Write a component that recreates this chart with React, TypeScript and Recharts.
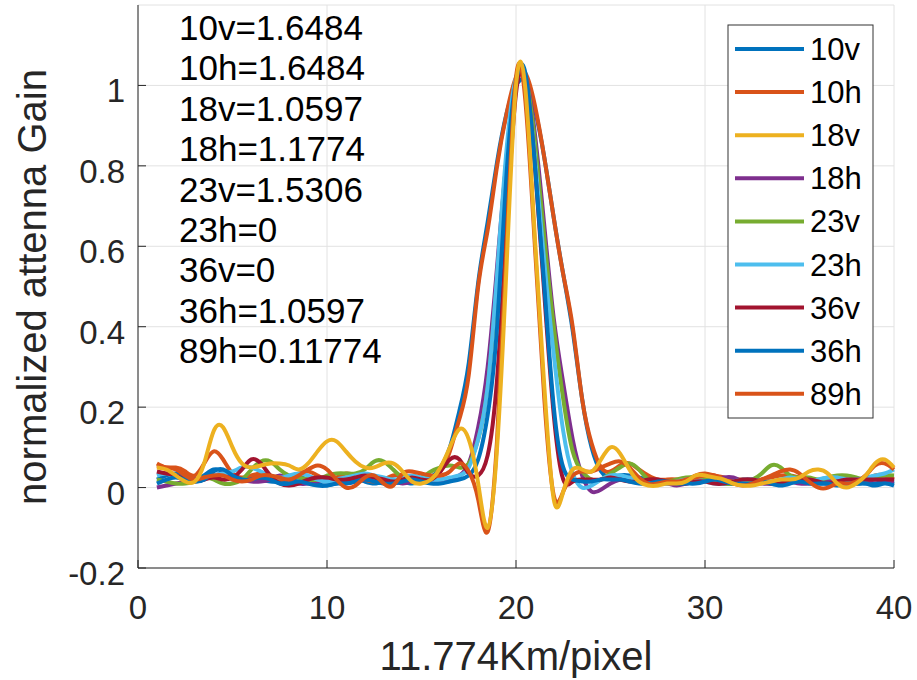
import React from "react";
import {
  LineChart,
  Line,
  XAxis,
  YAxis,
  CartesianGrid,
} from "recharts";

// sample positions (pixel index), 1..40 every half pixel
const X_POS = Array.from({ length: 79 }, (_, i) => 1 + i * 0.5);

const X_TICKS = [0, 10, 20, 30, 40];
const Y_TICKS = [-0.2, 0, 0.2, 0.4, 0.6, 0.8, 1];
const Y_GRID = [-0.2, 0, 0.2, 0.4, 0.6, 0.8, 1, 1.2];

const ANNOTATIONS = [
  "10v=1.6484",
  "10h=1.6484",
  "18v=1.0597",
  "18h=1.1774",
  "23v=1.5306",
  "23h=0",
  "36v=0",
  "36h=1.0597",
  "89h=0.11774",
];

// one value per sample position
const V10V = [
  0.02, 0.03, 0.035, 0.025, 0.02, 0.03, 0.045, 0.04, 0.025, 0.02,
  0.025, 0.02, 0.015, 0.015, 0.02, 0.025, 0.02, 0.01, 0.005, 0.01,
  0.015, 0.02, 0.015, 0.01, 0.015, 0.02, 0.015, 0.01, 0.015, 0.025,
  0.05, 0.1, 0.19, 0.31, 0.51, 0.66, 0.81, 0.93, 1.0, 1.01,
  0.94, 0.82, 0.67, 0.53, 0.39, 0.22, 0.1, 0.04, 0.025, 0.03,
  0.03, 0.025, 0.02, 0.015, 0.01, 0.01, 0.015, 0.02, 0.02, 0.015,
  0.01, 0.01, 0.015, 0.02, 0.015, 0.01, 0.01, 0.015, 0.02, 0.015,
  0.01, 0.01, 0.015, 0.015, 0.01, 0.01, 0.01, 0.015, 0.01,
];
const V10H = [
  0.06, 0.05, 0.05, 0.04, 0.03, 0.06, 0.09, 0.07, 0.035, 0.025,
  0.03, 0.035, 0.03, 0.02, 0.025, 0.035, 0.04, 0.03, 0.02, 0.025,
  0.035, 0.03, 0.02, 0.015, 0.02, 0.03, 0.03, 0.025, 0.02, 0.025,
  0.04, 0.09, 0.17, 0.28, 0.5, 0.64, 0.8, 0.93, 1.02, 1.03,
  0.95, 0.82, 0.67, 0.53, 0.4, 0.22, 0.11, 0.05, 0.04, 0.055,
  0.06, 0.045, 0.03, 0.02, 0.02, 0.02, 0.02, 0.03, 0.035, 0.03,
  0.025, 0.02, 0.02, 0.015, 0.02, 0.025, 0.03, 0.03, 0.025, 0.02,
  0.015, 0.015, 0.02, 0.02, 0.015, 0.02, 0.03, 0.03, 0.02,
];
const V18V = [
  0.05, 0.045, 0.03, 0.015, 0.015, 0.06, 0.14, 0.15, 0.1, 0.06,
  0.05, 0.055, 0.06, 0.06, 0.055, 0.045, 0.06, 0.09, 0.115, 0.115,
  0.09, 0.065, 0.05, 0.05, 0.06, 0.06, 0.04, 0.015, 0.01, 0.02,
  0.05, 0.1, 0.145, 0.12, 0.01, -0.1, 0.1, 0.55, 1.0, 0.99,
  0.62, 0.25, -0.03, -0.01, 0.045, 0.045, 0.04, 0.07, 0.1, 0.085,
  0.045, 0.015, 0.005, 0.005, 0.01, 0.01, 0.015, 0.03, 0.03, 0.025,
  0.02, 0.01, 0.005, 0.005, 0.01, 0.015, 0.02, 0.02, 0.025, 0.04,
  0.045, 0.035, 0.01, 0.0, 0.01, 0.03, 0.06, 0.07, 0.05,
];
const V18H = [
  0.0, 0.005, 0.01, 0.015, 0.02, 0.025, 0.03, 0.035, 0.03, 0.02,
  0.015, 0.015, 0.02, 0.03, 0.02, 0.01, 0.01, 0.015, 0.02, 0.015,
  0.01, 0.015, 0.02, 0.025, 0.02, 0.015, 0.01, 0.015, 0.02, 0.02,
  0.02, 0.02, 0.03, 0.06, 0.15, 0.3, 0.55, 0.82, 1.0, 1.02,
  0.88, 0.65, 0.42, 0.26, 0.12, 0.03, -0.01, -0.005, 0.01, 0.02,
  0.025, 0.02, 0.01, 0.01, 0.01, 0.005, 0.01, 0.015, 0.02, 0.02,
  0.025, 0.025, 0.015, 0.01, 0.01, 0.01, 0.015, 0.015, 0.01, 0.01,
  0.015, 0.02, 0.015, 0.01, 0.01, 0.015, 0.02, 0.02, 0.015,
];
const V23V = [
  0.02, 0.015, 0.01, 0.01, 0.015, 0.025, 0.02, 0.01, 0.01, 0.02,
  0.045, 0.065, 0.065, 0.045, 0.03, 0.025, 0.02, 0.02, 0.03, 0.035,
  0.035, 0.035, 0.045, 0.065, 0.065, 0.045, 0.025, 0.02, 0.025, 0.04,
  0.05, 0.055, 0.05, 0.06, 0.12, 0.25, 0.52, 0.82, 1.01, 1.02,
  0.86, 0.62, 0.4, 0.22, 0.09, 0.04, 0.02, 0.02, 0.035, 0.05,
  0.06, 0.045, 0.02, 0.015, 0.015, 0.02, 0.025, 0.025, 0.02, 0.015,
  0.01, 0.01, 0.015, 0.02, 0.035, 0.055, 0.05, 0.03, 0.025, 0.025,
  0.02, 0.025, 0.03, 0.03, 0.025, 0.02, 0.025, 0.03, 0.03,
];
const V23H = [
  0.03, 0.035, 0.03, 0.02, 0.015, 0.02, 0.03, 0.035, 0.04, 0.05,
  0.05, 0.04, 0.03, 0.025, 0.03, 0.035, 0.03, 0.02, 0.015, 0.02,
  0.025, 0.03, 0.035, 0.03, 0.025, 0.02, 0.025, 0.03, 0.025, 0.02,
  0.02, 0.025, 0.03, 0.05, 0.12, 0.25, 0.53, 0.84, 1.02, 1.01,
  0.82, 0.56, 0.33, 0.14, 0.035, 0.0, 0.005, 0.02, 0.03, 0.03,
  0.025, 0.02, 0.015, 0.01, 0.01, 0.015, 0.02, 0.02, 0.015, 0.01,
  0.01, 0.015, 0.02, 0.02, 0.015, 0.015, 0.02, 0.025, 0.02, 0.015,
  0.02, 0.025, 0.025, 0.02, 0.02, 0.025, 0.03, 0.035, 0.045,
];
const V36V = [
  0.04, 0.035, 0.03, 0.02, 0.015, 0.02, 0.025, 0.02, 0.025, 0.045,
  0.07, 0.06, 0.03, 0.01, 0.005, 0.01, 0.02, 0.025, 0.025, 0.02,
  0.02, 0.025, 0.03, 0.025, 0.02, 0.015, 0.02, 0.025, 0.02, 0.02,
  0.04, 0.07, 0.07, 0.035, 0.03, 0.08, 0.27, 0.65, 0.98, 1.02,
  0.8, 0.48, 0.18, 0.02, 0.015, 0.02, 0.02, 0.02, 0.025, 0.02,
  0.015, 0.015, 0.02, 0.02, 0.015, 0.01, 0.01, 0.015, 0.015, 0.01,
  0.01, 0.015, 0.02, 0.02, 0.015, 0.01, 0.01, 0.015, 0.02, 0.02,
  0.015, 0.01, 0.015, 0.02, 0.02, 0.02, 0.02, 0.02, 0.02,
];
const V36H = [
  0.01, 0.02, 0.025, 0.02, 0.015, 0.02, 0.04, 0.045, 0.03, 0.02,
  0.02, 0.025, 0.02, 0.01, 0.01, 0.015, 0.01, 0.005, 0.005, 0.01,
  0.01, 0.015, 0.02, 0.015, 0.01, 0.01, 0.015, 0.02, 0.015, 0.01,
  0.01, 0.015, 0.02, 0.03, 0.07, 0.18, 0.4, 0.78, 1.01, 1.03,
  0.8, 0.5, 0.2, 0.05, 0.02, 0.015, 0.015, 0.02, 0.02, 0.02,
  0.015, 0.01, 0.01, 0.015, 0.015, 0.01, 0.01, 0.01, 0.015, 0.02,
  0.015, 0.01, 0.01, 0.01, 0.015, 0.01, 0.005, 0.01, 0.015, 0.01,
  0.01, 0.01, 0.005, 0.01, 0.01, 0.01, 0.005, 0.01, 0.005,
];
const V89H = [
  0.055, 0.05, 0.045, 0.03, 0.02, 0.025, 0.03, 0.03, 0.02, 0.015,
  0.02, 0.03, 0.03, 0.025, 0.02, 0.03, 0.045, 0.055, 0.045, 0.02,
  0.0, 0.005, 0.025, 0.03, 0.01, 0.005, 0.035, 0.04, 0.035, 0.03,
  0.03, 0.04, 0.06, 0.04, -0.03, -0.11, 0.12, 0.6, 1.02, 0.96,
  0.6, 0.22, -0.02, -0.01, 0.03, 0.04, 0.04, 0.05, 0.06, 0.065,
  0.05, 0.025, 0.01, 0.01, 0.015, 0.015, 0.02, 0.025, 0.03, 0.03,
  0.02, 0.01, 0.005, 0.01, 0.02, 0.03, 0.04, 0.045, 0.035, 0.015,
  0.0, 0.0, 0.01, 0.01, 0.015, 0.03, 0.055, 0.06, 0.045,
];

// legend order
const SERIES = [
  { key: "10v", color: "#0072BD", values: V10V },
  { key: "10h", color: "#D95319", values: V10H },
  { key: "18v", color: "#EDB120", values: V18V },
  { key: "18h", color: "#7E2F8E", values: V18H },
  { key: "23v", color: "#77AC30", values: V23V },
  { key: "23h", color: "#4DBEEE", values: V23H },
  { key: "36v", color: "#A2142F", values: V36V },
  { key: "36h", color: "#0072BD", values: V36H },
  { key: "89h", color: "#D95319", values: V89H },
];
// drawing order (yellow ends up on top like in the figure)
const DRAW_ORDER = ["10v", "10h", "18h", "23v", "23h", "36v", "36h", "89h", "18v"];

const rows = X_POS.map((x, i) => {
  const r: Record<string, number> = { x };
  SERIES.forEach((s) => {
    r[s.key] = s.values[i];
  });
  return r;
});

const FONT = "'Liberation Sans', Arial, Helvetica, sans-serif";
const AX = "#262626";
const TICK_LEN = 8;

const BottomTick = (props: any) => {
  const { x, y, payload } = props;
  return (
    <g>
      <line x1={x} x2={x} y1={y} y2={y - TICK_LEN} stroke={AX} />
      <text x={x} y={y + 51} textAnchor="middle" fontSize={33} fill={AX} fontFamily={FONT}>
        {payload.value}
      </text>
    </g>
  );
};

const TopTick = (props: any) => {
  const { x, y } = props;
  return <line x1={x} x2={x} y1={y} y2={y + TICK_LEN} stroke={AX} />;
};

const LeftTick = (props: any) => {
  const { x, y, payload } = props;
  return (
    <g>
      <line x1={x} x2={x + TICK_LEN} y1={y} y2={y} stroke={AX} />
      <text x={x - 13} y={y + 17} textAnchor="end" fontSize={33} fill={AX} fontFamily={FONT}>
        {payload.value}
      </text>
    </g>
  );
};

const RightTick = (props: any) => {
  const { x, y } = props;
  return <line x1={x} x2={x - TICK_LEN} y1={y} y2={y} stroke={AX} />;
};

export default function App() {
  const W = 917;
  const H = 680;
  return (
    <div style={{ position: "absolute", left: 0, top: 0, width: W, height: H, background: "#fff" }}>
      <LineChart
        width={W}
        height={H}
        data={rows}
        margin={{ top: 5, right: 23, left: 0, bottom: 0 }}
      >
        <CartesianGrid
          xAxisId="b"
          yAxisId="l"
          stroke="#e2e2e2"
          horizontalValues={Y_GRID}
          verticalValues={X_TICKS}
        />
        <XAxis
          xAxisId="b"
          dataKey="x"
          type="number"
          domain={[0, 40]}
          ticks={X_TICKS}
          height={112}
          tickSize={0}
          tickMargin={0}
          tickLine={false}
          axisLine={{ stroke: AX }}
          tick={<BottomTick />}
          interval={0}
        />
        <XAxis
          xAxisId="t"
          orientation="top"
          dataKey="x"
          type="number"
          domain={[0, 40]}
          ticks={X_TICKS}
          height={0}
          tickSize={0}
          tickMargin={0}
          tickLine={false}
          axisLine={{ stroke: AX }}
          tick={<TopTick />}
          interval={0}
        />
        <YAxis
          yAxisId="l"
          type="number"
          domain={[-0.2, 1.2]}
          ticks={Y_TICKS}
          width={138}
          tickSize={0}
          tickMargin={0}
          tickLine={false}
          axisLine={{ stroke: AX }}
          tick={<LeftTick />}
          interval={0}
          allowDataOverflow
        />
        <YAxis
          yAxisId="r"
          orientation="right"
          type="number"
          domain={[-0.2, 1.2]}
          ticks={Y_TICKS}
          width={0}
          tickSize={0}
          tickMargin={0}
          tickLine={false}
          axisLine={{ stroke: AX }}
          tick={<RightTick />}
          interval={0}
        />
        {DRAW_ORDER.map((k) => {
          const s = SERIES.find((d) => d.key === k)!;
          return (
            <Line
              key={k}
              xAxisId="b"
              yAxisId="l"
              dataKey={k}
              type="natural"
              stroke={s.color}
              strokeWidth={4}
              dot={false}
              activeDot={false}
              isAnimationActive={false}
            />
          );
        })}
      </LineChart>
      <svg
        width={W}
        height={H}
        style={{ position: "absolute", left: 0, top: 0, pointerEvents: "none" }}
        fontFamily={FONT}
      >
        {ANNOTATIONS.map((t, i) => (
          <text key={t} x={179} y={40 + i * 40.4} fontSize={35} fill="#000">
            {t}
          </text>
        ))}
        <rect x={728} y={25} width={145} height={393} fill="#fff" stroke="#333" strokeWidth={1} />
        {SERIES.map((s, i) => {
          const cy = 49 + i * 43.1;
          return (
            <g key={s.key}>
              <line x1={735} x2={804} y1={cy} y2={cy} stroke={s.color} strokeWidth={4} />
              <text x={810} y={cy + 11} fontSize={31} fill="#000">
                {s.key}
              </text>
            </g>
          );
        })}
        <text x={516} y={670} textAnchor="middle" fontSize={40} fill={AX}>
          11.774Km/pixel
        </text>
        <text
          x={46}
          y={287}
          textAnchor="middle"
          fontSize={40}
          fill={AX}
          transform="rotate(-90 46 287)"
        >
          normalized attenna Gain
        </text>
      </svg>
    </div>
  );
}
